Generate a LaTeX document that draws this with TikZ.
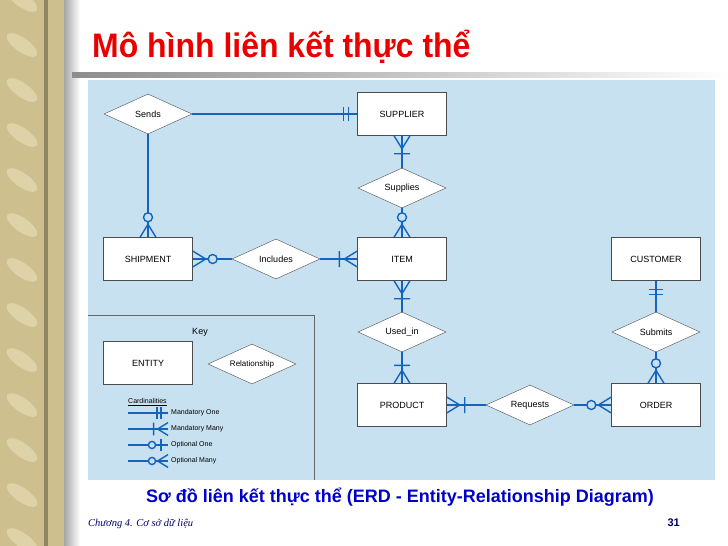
\documentclass[tikz,border=0pt]{standalone}
\usepackage{fontspec}
\setmainfont{Liberation Sans}
\newfontfamily\footfont{Liberation Serif}
\usetikzlibrary{shapes.geometric, positioning}
\definecolor{ercol}{RGB}{20,100,190}
\definecolor{panel}{RGB}{200,225,241}
\definecolor{rope}{RGB}{206,192,142}
\definecolor{ropelight}{RGB}{222,210,168}
\definecolor{titlered}{RGB}{235,0,0}
\definecolor{capblue}{RGB}{0,0,200}
\definecolor{footblue}{RGB}{0,0,110}
\tikzset{
	entity/.style = {draw=black!70, fill=white, minimum width=89pt, minimum height=43pt, inner sep=0pt, font=\fontsize{9}{10}\selectfont},
	rel/.style = {diamond, draw=black!70, fill=white, aspect=2.2, minimum width=88pt, minimum height=40pt, inner sep=0pt, font=\fontsize{9}{10}\selectfont},
	link/.style = {draw=ercol, line width=1.4pt},
	mone/.pic = {\draw[link] (9,-7) -- (9,7) (14,-7) -- (14,7);},
	mmany/.pic = {\draw[link] (0,-8) -- (13,0) -- (0,8) (18,-8) -- (18,8);},
	oone/.pic = {\draw[link] (9,-7) -- (9,7); \draw[link, fill=panel] (20,0) circle (4.5);},
	omany/.pic = {\draw[link] (0,-8) -- (13,0) -- (0,8); \draw[link, fill=panel] (20,0) circle (4.5);}
}
\begin{document}
\begin{tikzpicture}[x=1pt, y=-1pt]
	\useasboundingbox (0,0) rectangle (728,546);
	\fill[white] (0,0) rectangle (728,546);
	% left strip
	\fill[rope] (0,0) rectangle (64,546);
	\foreach \yy in {0,45,...,540}
		\fill[ropelight, rotate around={-35:(22,\yy)}] (22,\yy) ellipse (18 and 7);
	\fill[rope!70!black] (44,0) rectangle (48,546);
	\shade[left color=black!35, right color=white] (64,0) rectangle (80,546);
	% title
	\node[anchor=base west, text=titlered, font=\fontsize{34}{36}\selectfont\bfseries, inner sep=0pt, xscale=0.94] (title) at (92,57) {Mô hình liên kết thực thể};
	\shade[left color=black!45, right color=white] (72,72) rectangle (728,77);
	\fill[panel] (88,80) rectangle (715,480);

	% entities
	\node[entity] (supplier) at (402,114) {SUPPLIER};
	\node[entity] (shipment) at (148,259) {SHIPMENT};
	\node[entity] (item) at (402,259) {ITEM};
	\node[entity] (customer) at (656,259) {CUSTOMER};
	\node[entity] (product) at (402,405) {PRODUCT};
	\node[entity] (order) at (656,405) {ORDER};
	% relationships
	\node[rel] (sends) at (148,114) {Sends};
	\node[rel] (supplies) at (402,188) {Supplies};
	\node[rel] (includes) at (276,259) {Includes};
	\node[rel] (usedin) at (402,332) {Used\_in};
	\node[rel] (submits) at (656,332) {Submits};
	\node[rel] (requests) at (530,405) {Requests};

	\draw[link] (sends) -- (supplier);
	\draw[link] (sends) -- (shipment);
	\draw[link] (supplier) -- (supplies);
	\draw[link] (supplies) -- (item);
	\draw[link] (shipment) -- (includes);
	\draw[link] (includes) -- (item);
	\draw[link] (item) -- (usedin);
	\draw[link] (usedin) -- (product);
	\draw[link] (customer) -- (submits);
	\draw[link] (submits) -- (order);
	\draw[link] (product) -- (requests);
	\draw[link] (requests) -- (order);

	\pic[rotate=180] at (supplier.west) {mone};
	\pic[rotate=90] at (shipment.north) {omany};
	\pic[rotate=-90] at (supplier.south) {mmany};
	\pic[rotate=90] at (item.north) {omany};
	\pic at (shipment.east) {omany};
	\pic[rotate=180] at (item.west) {mmany};
	\pic[rotate=-90] at (item.south) {mmany};
	\pic[rotate=90] at (product.north) {mmany};
	\pic[rotate=-90] at (customer.south) {mone};
	\pic[rotate=90] at (order.north) {omany};
	\pic at (product.east) {mmany};
	\pic[rotate=180] at (order.west) {omany};

	% key
	\draw[black!60, line width=1pt] (88,315) -- (314,315) -- (314,480);
	\node[font=\fontsize{9}{10}\selectfont] (keylabel) at (200,332) {Key};
	\node[entity] (keyentity) at (148,363) {ENTITY};
	\node[rel, font=\fontsize{8}{9}\selectfont] (keyrel) at (252,364) {Relationship};
	\node[anchor=west, font=\fontsize{7}{8}\selectfont, inner sep=0pt] (cardlabel) at (128,402) {\underline{Cardinalities}};
	\foreach \kind/\txt [count=\i] in {mone/Mandatory One, mmany/Mandatory Many, oone/Optional One, omany/Optional Many} {
		\node[anchor=west, font=\fontsize{7}{8}\selectfont, inner sep=0pt] (card\i) at (171,397+16*\i) {\txt};
		\coordinate (cardstart\i) at (128,397+16*\i);
		\draw[link, line width=1.2pt] (cardstart\i) -- ([xshift=-3pt]card\i.west);
		\pic[rotate=180, scale=0.8] at ([xshift=-3pt]card\i.west) {\kind};
	}

	% caption and footer
	\node[text=capblue, font=\fontsize{18}{20}\selectfont\bfseries] (caption) at (400,497) {Sơ đồ liên kết thực thể (ERD - Entity-Relationship Diagram)};
	\node[anchor=base west, text=footblue, font=\footfont\itshape\fontsize{10.5}{12}\selectfont, inner sep=0pt] (chapter) at (88,526) {Chương 4. Cơ sở dữ liệu};
	\node[anchor=base east, text=footblue, font=\fontsize{11}{12}\selectfont\bfseries, inner sep=0pt] (pagenum) at (680,526) {31};
\end{tikzpicture}
\end{document}
